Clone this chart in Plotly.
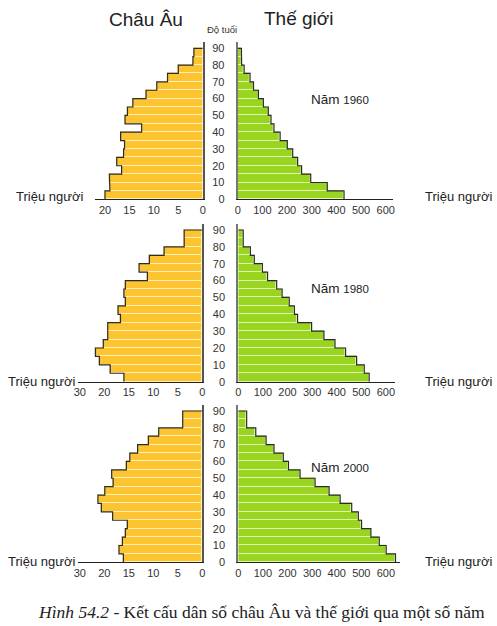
import plotly.graph_objects as go

W, H = 497, 626

# ---------------- data ----------------
age_bottoms = [0, 5, 10, 15, 20, 25, 30, 35, 40, 45, 50, 55, 60, 65, 70, 75, 80, 85]
age_ticks = [0, 10, 20, 30, 40, 50, 60, 70, 80, 90]

europe_1960 = [20.0, 19.0, 19.1, 16.6, 17.6, 16.2, 16.0, 16.8, 12.5, 15.9, 15.4, 14.3, 11.6, 9.4, 7.2, 5.0, 2.0, 1.8]
world_1960 = [431, 363, 296, 259, 243, 223, 201, 172, 147, 135, 124, 104, 84, 64, 50, 26, 16, 15]

europe_1980 = [16.0, 18.8, 21.0, 21.8, 20.2, 19.3, 19.3, 16.7, 17.2, 15.7, 16.0, 15.7, 11.2, 12.9, 10.8, 7.8, 3.7, 3.7]
world_1980 = [532, 512, 481, 436, 393, 348, 298, 241, 228, 207, 178, 156, 119, 98, 65, 49, 20, 20]

europe_2000 = [16.1, 17.0, 16.3, 15.7, 15.3, 18.3, 20.6, 21.3, 19.9, 18.2, 18.5, 15.5, 14.8, 13.2, 11.0, 8.9, 4.0, 4.0]
world_2000 = [639, 601, 573, 539, 501, 488, 461, 414, 369, 312, 251, 204, 183, 145, 113, 71, 34, 34]

years = ["1960", "1980", "2000"]

eu_tickvals_top = [0, 5, 10, 15, 20]
eu_ticktext_top = ["0", "5", "10", "15", "20"]
eu_tickvals = [0, 5, 10, 15, 20, 25]
eu_ticktext = ["0", "5", "10", "15", "20", "30"]
world_tickvals = [0, 100, 200, 300, 400, 500, 600]

# ---------------- style ----------------
EU_FILL = "#FCC430"
EU_SEP = "#FFEFB8"
W_FILL = "#98D420"
W_SEP = "#E2F5B0"
OUTLINE = "#2b2b2b"
TICKFONT = dict(family="Liberation Sans Narrow, Arial Narrow, Liberation Sans, Arial", size=11, color="#333")
SANS = "Liberation Sans, Arial"


def px_x(p):
    return p / W


def px_y(p):
    return 1 - p / H


def step_outline(values):
    xs, ys = [], []
    for b, v in zip(age_bottoms, values):
        xs += [v, v]
        ys += [b, b + 5]
    xs.append(0)
    ys.append(age_bottoms[-1] + 5)
    return xs, ys


fig = go.Figure()

panels = [
    dict(eu=europe_1960, wd=world_1960, y0=199.3, y90=48.3, ytop=42,
         eul=95, euz=202.7, eus=4.885, wz=237.7, wr=392.7, ws=0.2467,
         tv=eu_tickvals_top, tt=eu_ticktext_top),
    dict(eu=europe_1980, wd=world_1980, y0=381.7, y90=230.0, ytop=224,
         eul=78, euz=202.3, eus=4.9, wz=238.3, wr=395, ws=0.246,
         tv=eu_tickvals, tt=eu_ticktext),
    dict(eu=europe_2000, wd=world_2000, y0=562.3, y90=411.0, ytop=405,
         eul=78, euz=202.3, eus=4.9, wz=238.3, wr=400, ws=0.246,
         tv=eu_tickvals, tt=eu_ticktext),
]

layout_axes = {}
ymid = [b + 2.5 for b in age_bottoms]

for i, p in enumerate(panels):
    k_eu = 2 * i + 1
    k_w = 2 * i + 2
    xa_eu = "x" if k_eu == 1 else f"x{k_eu}"
    ya_eu = "y" if k_eu == 1 else f"y{k_eu}"
    xa_w = f"x{k_w}"
    ya_w = f"y{k_w}"

    pxy = (p["y0"] - p["y90"]) / 90.0
    ymax = (p["y0"] - p["ytop"]) / pxy
    ydom = [px_y(p["y0"]), px_y(p["ytop"])]
    eu_max = (p["euz"] - p["eul"]) / p["eus"]
    w_max = (p["wr"] - p["wz"]) / p["ws"]

    fig.add_trace(go.Bar(
        x=p["eu"], y=ymid, orientation="h", width=5, base=0,
        marker=dict(color=EU_FILL, line=dict(color=EU_SEP, width=1)),
        xaxis=xa_eu, yaxis=ya_eu, showlegend=False, hoverinfo="skip"))
    ox, oy = step_outline(p["eu"])
    fig.add_trace(go.Scatter(
        x=ox, y=oy, mode="lines", line=dict(color=OUTLINE, width=1.2),
        xaxis=xa_eu, yaxis=ya_eu, showlegend=False, hoverinfo="skip", cliponaxis=False))

    fig.add_trace(go.Bar(
        x=p["wd"], y=ymid, orientation="h", width=5, base=0,
        marker=dict(color=W_FILL, line=dict(color=W_SEP, width=1)),
        xaxis=xa_w, yaxis=ya_w, showlegend=False, hoverinfo="skip"))
    ox, oy = step_outline(p["wd"])
    fig.add_trace(go.Scatter(
        x=ox, y=oy, mode="lines", line=dict(color=OUTLINE, width=1.2),
        xaxis=xa_w, yaxis=ya_w, showlegend=False, hoverinfo="skip", cliponaxis=False))

    key_x_eu = "xaxis" if k_eu == 1 else f"xaxis{k_eu}"
    key_y_eu = "yaxis" if k_eu == 1 else f"yaxis{k_eu}"
    layout_axes[key_x_eu] = dict(
        domain=[px_x(p["eul"]), px_x(p["euz"])], range=[eu_max, 0],
        anchor=ya_eu, showline=True, linecolor="#222", linewidth=1,
        tickvals=p["tv"], ticktext=p["tt"], ticks="", tickfont=TICKFONT,
        showgrid=False, zeroline=False, fixedrange=True)
    layout_axes[key_y_eu] = dict(
        domain=ydom, range=[0, ymax], anchor=xa_eu, side="right",
        showline=True, linecolor="#555", linewidth=1.5,
        showticklabels=False, ticks="", showgrid=False, zeroline=False, fixedrange=True)
    layout_axes[f"xaxis{k_w}"] = dict(
        domain=[px_x(p["wz"]), px_x(p["wr"])], range=[0, w_max],
        anchor=ya_w, showline=True, linecolor="#222", linewidth=1,
        tickvals=world_tickvals, ticks="", tickfont=TICKFONT,
        showgrid=False, zeroline=False, fixedrange=True)
    layout_axes[f"yaxis{k_w}"] = dict(
        domain=ydom, range=[0, ymax], anchor=xa_w, side="left",
        showline=True, linecolor="#777", linewidth=2,
        tickvals=age_ticks, ticks="", tickfont=TICKFONT, ticklabelstandoff=9,
        showgrid=False, zeroline=False, fixedrange=True)

annotations = [
    dict(text="Châu Âu", x=px_x(146), y=px_y(20), font=dict(family=SANS, size=19, color="#222")),
    dict(text="Thế giới", x=px_x(299), y=px_y(18), font=dict(family=SANS, size=19, color="#222")),
    dict(text="Độ tuổi", x=px_x(222), y=px_y(30), font=dict(family=TICKFONT["family"], size=9.5, color="#333")),
]
year_pos = [(340, 100), (340, 288), (340, 467)]
for yr, (ax, ay) in zip(years, year_pos):
    annotations.append(dict(
        text=f"Năm <span style='font-size:11.5px'>{yr}</span>", x=px_x(ax), y=px_y(ay),
        font=dict(family=SANS, size=13.5, color="#222")))

unit_pos_left = [(49, 196), (41, 381), (41, 561)]
unit_pos_right = [(458, 196), (458, 381), (458, 561)]
for ax, ay in unit_pos_left + unit_pos_right:
    annotations.append(dict(text="Triệu người", x=px_x(ax), y=px_y(ay),
                            font=dict(family=SANS, size=13, color="#222")))

annotations.append(dict(
    text="<i>Hình 54.2</i> - Kết cấu dân số châu Âu và thế giới qua một số năm",
    x=px_x(261), y=px_y(612), font=dict(family="Liberation Serif, Times New Roman", size=17.5, color="#222")))

for a in annotations:
    a.update(xref="paper", yref="paper", showarrow=False, xanchor="center", yanchor="middle")

fig.update_layout(
    width=W, height=H, margin=dict(l=0, r=0, t=0, b=0),
    paper_bgcolor="white", plot_bgcolor="rgba(0,0,0,0)",
    template="none", bargap=0, barmode="overlay", showlegend=False,
    annotations=annotations, **layout_axes)

fig.write_html("out.html", config={"displayModeBar": False},
               post_script="document.body.style.margin='0';document.body.style.overflow='hidden';")
